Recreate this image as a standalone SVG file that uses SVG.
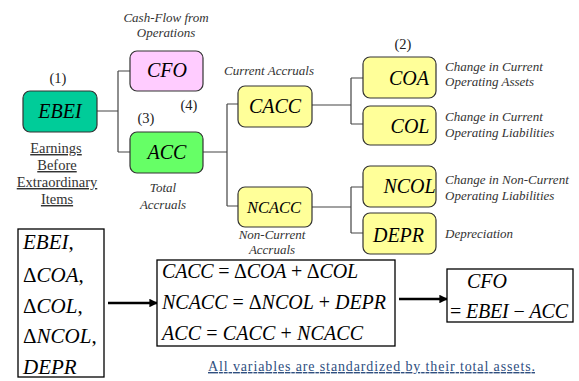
<svg xmlns="http://www.w3.org/2000/svg" width="579" height="381" viewBox="0 0 579 381">
<defs>
<style>
.t{font-family:'Times New Roman','Liberation Serif',serif}
.box{stroke:#333;stroke-width:1.2}
.nt{font-style:italic;font-size:20px;fill:#000;text-anchor:middle}
.lbl{font-style:italic;font-size:13px;fill:#333}
.num{font-size:14.5px;fill:#222;text-anchor:middle}
.und{font-size:14.5px;fill:#333;text-anchor:middle;text-decoration:underline}
.conn{fill:none;stroke:#444;stroke-width:1.2}
.eq{font-style:italic;font-size:20px;fill:#000}
.up{font-style:normal}
.ebox{fill:#fff;stroke:#000;stroke-width:1.3}
.arr{stroke:#000;stroke-width:2.5;fill:none}
</style>
<marker id="ah" viewBox="0 0 10 10" refX="9" refY="5" markerWidth="3.4" markerHeight="3.4" orient="auto" markerUnits="strokeWidth">
<path d="M0,0 L10,5 L0,10 z" fill="#000"/>
</marker>
</defs>
<rect width="579" height="381" fill="#fff"/>
<g id="connectors">
<path class="conn" d="M97,111 H118 M118,71 V152 M118,71 H130 M118,152 H130"/>
<path class="conn" d="M203,152 H227 M227,104 V206 M227,104 H238 M227,206 H238"/>
<path class="conn" d="M312,105 H351 M351,78 V124 M351,78 H363 M351,124 H363"/>
<path class="conn" d="M312,207 H351 M351,187 V233 M351,187 H363 M351,233 H363"/>
<path class="arr" d="M108,303 H157" marker-end="url(#ah)"/>
<path class="arr" d="M399,299 H447" marker-end="url(#ah)"/>
</g>

<g id="EBEI">
<text class="t num" font-family="Times New Roman" x="58" y="83">(1)</text>
<rect class="box" x="23" y="91" width="74" height="41" rx="7" fill="#00CC99"/>
<text class="t nt" font-family="Times New Roman" x="60" y="118">EBEI</text>
<text class="t und" font-family="Times New Roman" x="56" y="153">Earnings</text>
<text class="t und" font-family="Times New Roman" x="57" y="170">Before</text>
<text class="t und" font-family="Times New Roman" x="57" y="187">Extraordinary</text>
<text class="t und" font-family="Times New Roman" x="57" y="204"> Items</text>
</g>

<g id="CFO">
<text class="t lbl" font-family="Times New Roman" x="166" y="22" text-anchor="middle">Cash-Flow from</text>
<text class="t lbl" font-family="Times New Roman" x="166" y="37" text-anchor="middle">Operations</text>
<rect class="box" x="130" y="51" width="73" height="40" rx="7" fill="#FFCCFF"/>
<text class="t nt" font-family="Times New Roman" x="167" y="77">CFO</text>
<text class="t num" font-family="Times New Roman" x="189" y="110">(4)</text>
</g>

<g id="ACC">
<text class="t num" font-family="Times New Roman" x="146" y="123">(3)</text>
<rect class="box" x="130" y="132" width="73" height="41" rx="7" fill="#66FF66"/>
<text class="t nt" font-family="Times New Roman" x="167" y="159">ACC</text>
<text class="t lbl" font-family="Times New Roman" x="163" y="192" text-anchor="middle" font-size="14.5">Total</text>
<text class="t lbl" font-family="Times New Roman" x="163" y="209" text-anchor="middle" font-size="14.5">Accruals</text>
</g>

<g id="CACC">
<text class="t lbl" font-family="Times New Roman" x="269" y="75" text-anchor="middle">Current Accruals</text>
<rect class="box" x="238" y="86" width="74" height="41" rx="7" fill="#FFFF99"/>
<text class="t nt" font-family="Times New Roman" x="275" y="113">CACC</text>
</g>

<g id="NCACC">
<rect class="box" x="238" y="187" width="74" height="40" rx="7" fill="#FFFF99"/>
<text class="t nt" font-family="Times New Roman" x="274" y="213" style="font-size:16.5px">NCACC</text>
<text class="t lbl" font-family="Times New Roman" x="272" y="239" text-anchor="middle">Non-Current</text>
<text class="t lbl" font-family="Times New Roman" x="272" y="254" text-anchor="middle">Accruals</text>
</g>

<g id="COA">
<text class="t num" font-family="Times New Roman" x="403" y="49">(2)</text>
<rect class="box" x="363" y="57" width="73" height="41" rx="7" fill="#FFFF99"/>
<text class="t nt" font-family="Times New Roman" x="409" y="85">COA</text>
<text class="t lbl" font-family="Times New Roman" x="445" y="71">Change in Current</text>
<text class="t lbl" font-family="Times New Roman" x="445" y="86">Operating Assets</text>
</g>

<g id="COL">
<rect class="box" x="363" y="106" width="73" height="39" rx="7" fill="#FFFF99"/>
<text class="t nt" font-family="Times New Roman" x="410" y="133">COL</text>
<text class="t lbl" font-family="Times New Roman" x="445" y="121">Change in Current</text>
<text class="t lbl" font-family="Times New Roman" x="445" y="137">Operating Liabilities</text>
</g>

<g id="NCOL">
<rect class="box" x="363" y="166" width="73" height="41" rx="7" fill="#FFFF99"/>
<text class="t nt" font-family="Times New Roman" x="409.5" y="193">NCOL</text>
<text class="t lbl" font-family="Times New Roman" x="445" y="184">Change in Non-Current</text>
<text class="t lbl" font-family="Times New Roman" x="445" y="200">Operating Liabilities</text>
</g>

<g id="DEPR">
<rect class="box" x="363" y="213" width="73" height="41" rx="7" fill="#FFFF99"/>
<text class="t nt" font-family="Times New Roman" x="398.5" y="242">DEPR</text>
<text class="t lbl" font-family="Times New Roman" x="445" y="238">Depreciation</text>
</g>

<g id="inputs">
<rect class="ebox" x="18" y="229" width="86" height="148"/>
<text class="t eq" font-family="Times New Roman" style="font-size:21px" x="23" y="249">EBEI<tspan class="up">,</tspan></text>
<text class="t eq" font-family="Times New Roman" style="font-size:21px" x="23" y="282"><tspan class="up">Δ</tspan>COA<tspan class="up">,</tspan></text>
<text class="t eq" font-family="Times New Roman" style="font-size:21px" x="23" y="313"><tspan class="up">Δ</tspan>COL<tspan class="up">,</tspan></text>
<text class="t eq" font-family="Times New Roman" style="font-size:21px" x="23" y="343"><tspan class="up">Δ</tspan>NCOL<tspan class="up">,</tspan></text>
<text class="t eq" font-family="Times New Roman" style="font-size:21px" x="23" y="374">DEPR</text>
</g>

<g id="equations">
<rect class="ebox" x="157" y="260" width="238" height="86"/>
<text class="t eq" font-family="Times New Roman" x="162" y="278" textLength="196" lengthAdjust="spacing">CACC<tspan class="up"> = Δ</tspan>COA<tspan class="up"> + Δ</tspan>COL</text>
<text class="t eq" font-family="Times New Roman" x="162" y="309" textLength="224" lengthAdjust="spacing">NCACC<tspan class="up"> = Δ</tspan>NCOL<tspan class="up"> + </tspan>DEPR</text>
<text class="t eq" font-family="Times New Roman" x="162" y="340" textLength="201" lengthAdjust="spacing">ACC<tspan class="up"> = </tspan>CACC<tspan class="up"> + </tspan>NCACC</text>
</g>

<g id="result">
<rect class="ebox" x="447" y="269" width="126" height="53"/>
<text class="t eq" font-family="Times New Roman" x="467" y="288">CFO</text>
<text class="t eq" font-family="Times New Roman" x="450" y="318" textLength="118" lengthAdjust="spacing"><tspan class="up">= </tspan>EBEI<tspan class="up"> − </tspan>ACC</text>
</g>

<text class="t" font-family="Times New Roman" x="208" y="371" font-size="14" fill="#2F4F7F" text-decoration="underline" textLength="327" lengthAdjust="spacing">All variables are standardized by their total assets.</text>
</svg>
